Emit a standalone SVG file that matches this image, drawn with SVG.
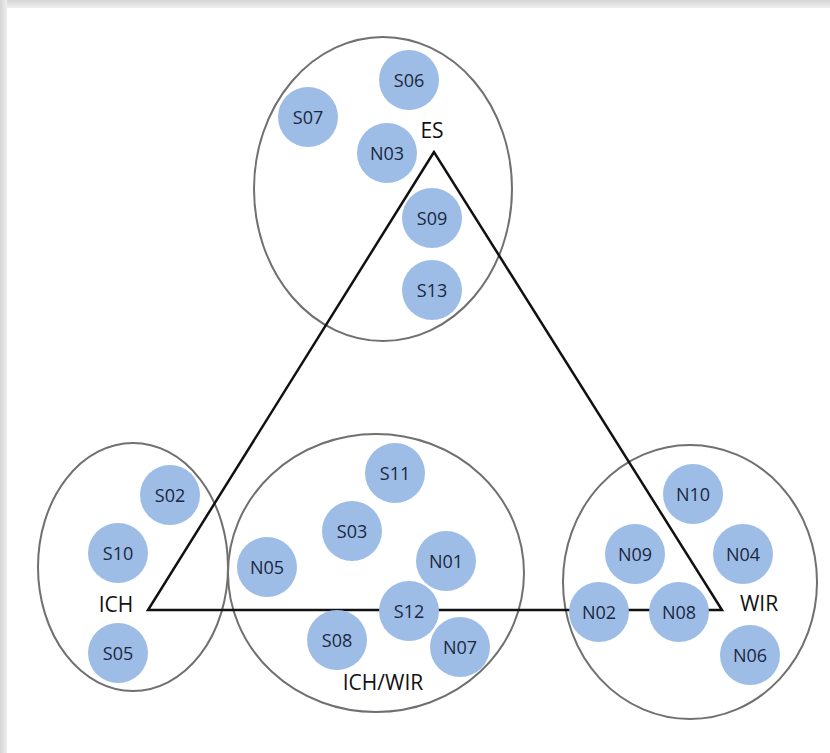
<svg xmlns="http://www.w3.org/2000/svg" width="830" height="753" viewBox="0 0 830 753">
  <defs>
    <linearGradient id="shadeTop" x1="0" y1="0" x2="0" y2="1">
      <stop offset="0" stop-color="#d4d4d4"/>
      <stop offset="1" stop-color="#efefef"/>
    </linearGradient>
    <linearGradient id="shadeLeft" x1="0" y1="0" x2="1" y2="0">
      <stop offset="0" stop-color="#d4d4d4"/>
      <stop offset="1" stop-color="#efefef"/>
    </linearGradient>
  </defs>
  <style>
    .group { fill: none; stroke: #707070; stroke-width: 2; }
    .node circle { fill: #9dbde6; }
    .node text { font-family: "Open Sans", "Liberation Sans", sans-serif; font-size: 18px; fill: #1b2740; text-anchor: middle; dominant-baseline: central; }
    .label { font-family: "Open Sans", "Liberation Sans", sans-serif; font-size: 21px; fill: #111; text-anchor: middle; dominant-baseline: central; }
    .edge { fill: none; stroke: #111; stroke-width: 2.5; stroke-linejoin: miter; }
  </style>

  <!-- page frame -->
  <rect x="0" y="0" width="830" height="753" fill="#ffffff"/>
  <rect x="0" y="0" width="830" height="8" fill="url(#shadeTop)"/>
  <rect x="0" y="0" width="7" height="753" fill="url(#shadeLeft)"/>

  <!-- group outlines -->
  <g id="groups">
    <ellipse id="grp-ES" class="group" cx="383" cy="189" rx="129" ry="152"/>
    <ellipse id="grp-ICH" class="group" cx="133" cy="567" rx="95" ry="124"/>
    <ellipse id="grp-ICHWIR" class="group" cx="376" cy="573" rx="148" ry="139"/>
    <ellipse id="grp-WIR" class="group" cx="690" cy="582" rx="127" ry="137"/>
  </g>

  <!-- triangle connectors -->
  <g id="connectors">
    <polygon class="edge" points="434,152 148,610 722,610"/>
  </g>

  <!-- corner labels -->
  <g id="labels">
    <text class="label" x="432" y="130">ES</text>
    <text class="label" x="116" y="604">ICH</text>
    <text class="label" x="759" y="603">WIR</text>
    <text class="label" x="383" y="682">ICH/WIR</text>
  </g>

  <!-- nodes -->
  <g id="S06" class="node"><circle cx="409" cy="80" r="30"/><text x="409" y="80">S06</text></g>
  <g id="S07" class="node"><circle cx="308" cy="117" r="30"/><text x="308" y="117">S07</text></g>
  <g id="N03" class="node"><circle cx="387" cy="153" r="30"/><text x="387" y="153">N03</text></g>
  <g id="S09" class="node"><circle cx="432" cy="218" r="30"/><text x="432" y="218">S09</text></g>
  <g id="S13" class="node"><circle cx="432" cy="290" r="30"/><text x="432" y="290">S13</text></g>

  <g id="S02" class="node"><circle cx="170" cy="495" r="30"/><text x="170" y="495">S02</text></g>
  <g id="S10" class="node"><circle cx="118" cy="553" r="30"/><text x="118" y="553">S10</text></g>
  <g id="S05" class="node"><circle cx="118" cy="653" r="30"/><text x="118" y="653">S05</text></g>

  <g id="S11" class="node"><circle cx="395" cy="473" r="30"/><text x="395" y="473">S11</text></g>
  <g id="S03" class="node"><circle cx="352" cy="531" r="30"/><text x="352" y="531">S03</text></g>
  <g id="N05" class="node"><circle cx="267" cy="567" r="30"/><text x="267" y="567">N05</text></g>
  <g id="N01" class="node"><circle cx="446" cy="561" r="30"/><text x="446" y="561">N01</text></g>
  <g id="S12" class="node"><circle cx="409" cy="611" r="30"/><text x="409" y="611">S12</text></g>
  <g id="S08" class="node"><circle cx="337" cy="640" r="30"/><text x="337" y="640">S08</text></g>
  <g id="N07" class="node"><circle cx="460" cy="647" r="30"/><text x="460" y="647">N07</text></g>

  <g id="N10" class="node"><circle cx="693" cy="494" r="30"/><text x="693" y="494">N10</text></g>
  <g id="N09" class="node"><circle cx="635" cy="554" r="30"/><text x="635" y="554">N09</text></g>
  <g id="N04" class="node"><circle cx="743" cy="554" r="30"/><text x="743" y="554">N04</text></g>
  <g id="N02" class="node"><circle cx="599" cy="612" r="30"/><text x="599" y="612">N02</text></g>
  <g id="N08" class="node"><circle cx="679" cy="612" r="30"/><text x="679" y="612">N08</text></g>
  <g id="N06" class="node"><circle cx="750" cy="655" r="30"/><text x="750" y="655">N06</text></g>
</svg>
